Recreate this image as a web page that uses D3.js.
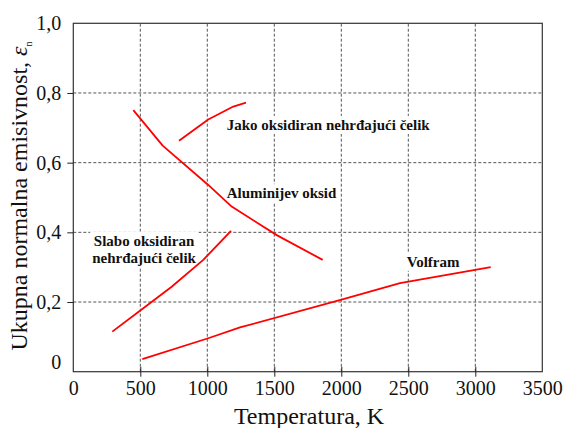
<!DOCTYPE html>
<html>
<head>
<meta charset="utf-8">
<script src="https://cdn.jsdelivr.net/npm/d3@7/dist/d3.min.js"></script>
<style>
  body { margin: 0; background: #fff; }
  svg { display: block; }
  svg text { font-family: "Liberation Serif", "Times New Roman", serif; }
</style>
</head>
<body>
<div id="chart"></div>
<script>
// temperature (K) / emissivity pairs
var aluminaT   = [448, 667, 1007, 1182, 1518, 1861];
var aluminaE   = [0.751, 0.649, 0.536, 0.474, 0.392, 0.321];
var jakoT      = [789, 1007, 1194, 1289];
var jakoE      = [0.663, 0.724, 0.761, 0.772];
var slaboT     = [291, 505, 734, 970, 1177];
var slaboE     = [0.115, 0.177, 0.244, 0.321, 0.404];
var volframT   = [515, 1007, 1244, 2015, 2438, 3115];
var volframE   = [0.036, 0.096, 0.127, 0.208, 0.254, 0.300];

var xTicks = [0, 500, 1000, 1500, 2000, 2500, 3000, 3500];
var yTicks = [0, 0.2, 0.4, 0.6, 0.8, 1.0];

// curve names, anchored at (temperature, emissivity) of the first baseline
var labelLines = [
  { lines: ["Jako oksidiran nehrđajući čelik"], t: 1145, e: 0.694, anchor: "start" },
  { lines: ["Aluminijev oksid"], t: 1145, e: 0.498, anchor: "start" },
  { lines: ["Volfram"], t: 2488, e: 0.301, anchor: "start" },
  { lines: ["Slabo oksidiran", "nehrđajući čelik"], t: 528, e: 0.362, anchor: "middle" }
];

var W = 565, H = 428;
var svg = d3.select('#chart').append('svg')
  .attr('width', W)
  .attr('height', H);

var x = d3.scaleLinear().domain([0, 3500]).range([73.3, 542.3]);
var y = d3.scaleLinear().domain([0, 1]).range([371.7, 23.3]);

var zip = function (ts, es) {
  return ts.map(function (t, i) { return [t, es[i]]; });
};

// grid
var grid = svg.append('g').attr('class', 'grid');
grid.selectAll('line.v')
  .data(xTicks.filter(function (d) { return d > 0 && d < 3500; }))
  .enter().append('line')
  .attr('x1', function (d) { return x(d); })
  .attr('x2', function (d) { return x(d); })
  .attr('y1', y(0)).attr('y2', y(1))
  .attr('stroke', '#555').attr('stroke-width', 1)
  .attr('stroke-dasharray', '3,2');
grid.selectAll('line.h')
  .data(yTicks.filter(function (d) { return d > 0 && d < 1; }))
  .enter().append('line')
  .attr('y1', function (d) { return y(d); })
  .attr('y2', function (d) { return y(d); })
  .attr('x1', x(0)).attr('x2', x(3500))
  .attr('stroke', '#555').attr('stroke-width', 1)
  .attr('stroke-dasharray', '3,2');

// labels with white boxes (they hide the grid behind them)
var lbl = svg.append('g').attr('class', 'labels');
labelLines.forEach(function (L) {
  var g = lbl.append('g');
  var txt = g.append('text')
    .attr('text-anchor', L.anchor)
    .attr('font-weight', 'bold')
    .attr('font-size', 15)
    .attr('fill', '#111');
  L.lines.forEach(function (s, i) {
    txt.append('tspan')
      .attr('x', x(L.t))
      .attr('y', y(L.e) + i * 17.6)
      .text(s);
  });
  var bb = txt.node().getBBox();
  g.insert('rect', 'text')
    .attr('x', bb.x - 2).attr('y', bb.y - 1)
    .attr('width', bb.width + 4).attr('height', bb.height + 2)
    .attr('fill', '#fff');
});

// curves
var line = d3.line()
  .x(function (d) { return x(d[0]); })
  .y(function (d) { return y(d[1]); });

[zip(aluminaT, aluminaE), zip(jakoT, jakoE), zip(slaboT, slaboE), zip(volframT, volframE)]
  .forEach(function (pts) {
    svg.append('path')
      .datum(pts)
      .attr('fill', 'none')
      .attr('stroke', '#ff0000')
      .attr('stroke-width', 1.8)
      .attr('stroke-linejoin', 'round')
      .attr('d', line);
  });

// frame
svg.append('rect')
  .attr('x', x(0)).attr('y', y(1))
  .attr('width', x(3500) - x(0)).attr('height', y(0) - y(1))
  .attr('fill', 'none').attr('stroke', '#333').attr('stroke-width', 1.2);

// axes
var xAxis = svg.append('g')
  .attr('transform', 'translate(0,' + y(0) + ')')
  .call(d3.axisBottom(x).tickValues(xTicks).tickFormat(d3.format('d'))
    .tickSizeInner(5).tickSizeOuter(0).tickPadding(4));
xAxis.select('.domain').remove();
xAxis.selectAll('.tick line').attr('y1', -5).attr('stroke', '#222');
xAxis.selectAll('.tick text').attr('font-size', 20).attr('fill', '#111');
xAxis.selectAll('.tick').filter(function (d) { return d === 0 || d === 3500; }).select('line').remove();

var fmt = function (d) { return d === 0 ? '0' : d3.format('.1f')(d).replace('.', ','); };
var yAxis = svg.append('g')
  .attr('transform', 'translate(' + x(0) + ',0)')
  .call(d3.axisLeft(y).tickValues(yTicks).tickFormat(fmt).tickSizeInner(6).tickSizeOuter(0).tickPadding(6));
yAxis.select('.domain').remove();
yAxis.selectAll('.tick line').attr('stroke', '#222');
yAxis.selectAll('.tick text').attr('font-size', 20).attr('fill', '#111');
yAxis.selectAll('.tick').filter(function (d) { return d === 0; })
  .select('text').attr('dy', '-0.18em');
yAxis.selectAll('.tick').filter(function (d) { return d === 0 || d === 1; }).select('line').remove();

// axis titles
svg.append('text')
  .attr('x', 309).attr('y', 424)
  .attr('text-anchor', 'middle')
  .attr('font-size', 24)
  .attr('fill', '#111')
  .text('Temperatura, K');

var yt = svg.append('text')
  .attr('transform', 'translate(27,' + 196 + ') rotate(-90)')
  .attr('text-anchor', 'middle')
  .attr('font-size', 24)
  .attr('fill', '#111');
yt.append('tspan').text('Ukupna normalna emisivnost, ');
yt.append('tspan').attr('font-style', 'italic').text('ε');
yt.append('tspan').attr('font-size', 10).attr('dy', 5).text('n');
</script>
</body>
</html>
